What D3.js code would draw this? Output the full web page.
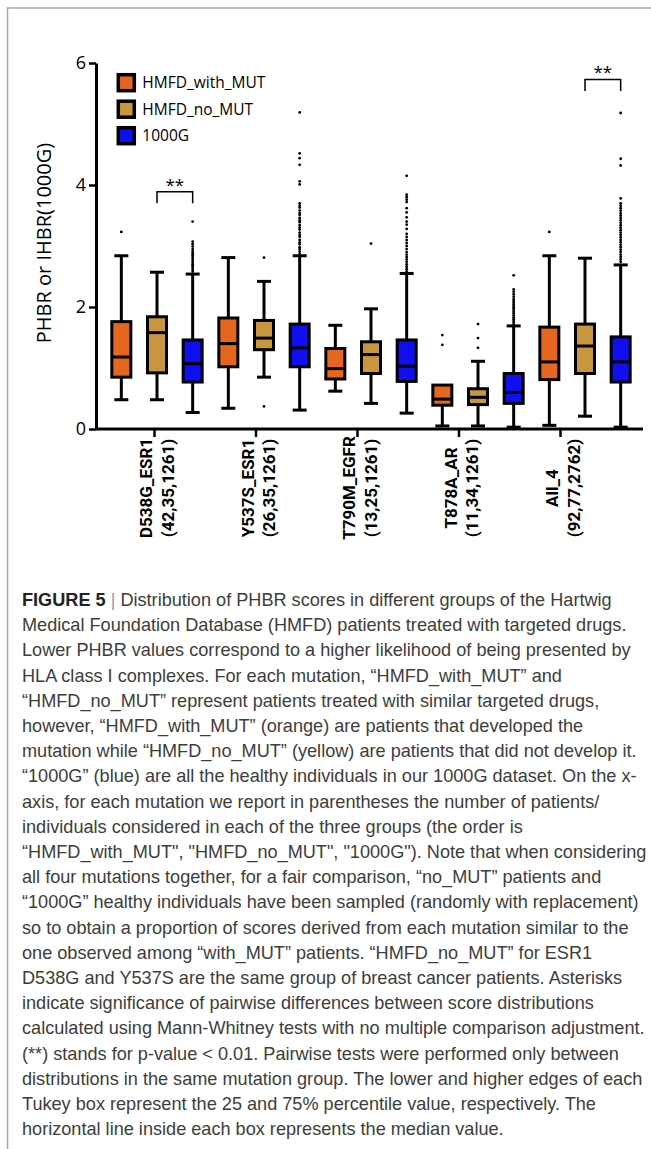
<!DOCTYPE html>
<html>
<head>
<meta charset="utf-8">
<script src="https://cdn.jsdelivr.net/npm/d3@7"></script>
<style>
  body { margin: 0; background: #fff; }
  svg { display: block; }
</style>
</head>
<body>
<svg id="fig" width="651" height="1149"></svg>
<script>
// categories
var groups = ["D538G_ESR1", "Y537S_ESR1", "T790M_EGFR", "T878A_AR", "All_4"];
var groupCounts = ["(42,35,1261)", "(26,35,1261)", "(13,25,1261)", "(11,34,1261)", "(92,77,2762)"];
var seriesNames = ["HMFD_with_MUT", "HMFD_no_MUT", "1000G"];
var seriesColors = ["#E5661F", "#C8963E", "#0F0FF0"];
var yTicks = [0, 2, 4, 6];

// box stats per group: [low whisker, q1, median, q3, high whisker]
var withMutStats = [
  [0.48, 0.85, 1.18, 1.76, 2.84],
  [0.34, 1.02, 1.40, 1.82, 2.81],
  [0.62, 0.82, 0.99, 1.32, 1.70],
  [0.05, 0.39, 0.49, 0.72, 0.72],
  [0.06, 0.81, 1.10, 1.67, 2.84]
];
var noMutStats = [
  [0.48, 0.92, 1.58, 1.84, 2.57],
  [0.85, 1.30, 1.49, 1.78, 2.42],
  [0.42, 0.91, 1.22, 1.43, 1.97],
  [0.05, 0.40, 0.52, 0.66, 1.11],
  [0.21, 0.91, 1.36, 1.72, 2.80]
];
var g1000Stats = [
  [0.27, 0.77, 1.07, 1.46, 2.54],
  [0.31, 1.02, 1.33, 1.72, 2.84],
  [0.26, 0.78, 1.03, 1.46, 2.55],
  [0.03, 0.42, 0.60, 0.91, 1.69],
  [0.03, 0.77, 1.10, 1.51, 2.69]
];

// outliers per group
var withMutOut = [[3.23], [], [], [1.54, 1.38], [3.23]];
var noMutOut = [[], [2.81, 0.37], [3.04], [1.72, 1.49, 1.33], []];
var g1000Out = [
  [3.40, 3.07, 3.03, 2.99, 2.95, 2.91, 2.88, 2.85, 2.82, 2.79, 2.76, 2.73, 2.70, 2.67, 2.64, 2.61, 2.58],
  [5.19, 4.52, 4.44, 4.33, 4.06, 4.01, 3.70, 3.66, 3.63, 3.58, 3.54, 3.51, 3.46, 3.42, 3.39, 3.34, 3.30,
   3.27, 3.22, 3.18, 3.15, 3.10, 3.06, 3.03, 2.98, 2.95, 2.91, 2.87],
  [4.15, 3.84, 3.80, 3.76, 3.72, 3.62, 3.55, 3.47, 3.40, 3.35, 3.28, 3.20, 3.15, 3.10, 3.05, 3.00, 2.95,
   2.90, 2.86, 2.82, 2.78, 2.74, 2.70, 2.66, 2.62, 2.58],
  [2.52, 2.29, 2.25, 2.21, 2.17, 2.13, 2.10, 2.07, 2.04, 2.01, 1.98, 1.95, 1.92, 1.89, 1.86, 1.83, 1.80,
   1.77, 1.74, 1.71],
  [5.18, 4.43, 4.32, 3.78, 3.70, 3.66, 3.62, 3.58, 3.54, 3.50, 3.46, 3.42, 3.38, 3.34, 3.30, 3.26, 3.22,
   3.18, 3.14, 3.10, 3.06, 3.02, 2.98, 2.94, 2.90, 2.86, 2.82, 2.78, 2.74]
];

// significance brackets
var sigPairs = [
  { group: "D538G_ESR1", a: "HMFD_no_MUT", b: "1000G", y: 3.89, label: "**" },
  { group: "All_4", a: "HMFD_no_MUT", b: "1000G", y: 5.73, label: "**" }
];

var captionLines = [
  "Distribution of PHBR scores in different groups of the Hartwig",
  "Medical Foundation Database (HMFD) patients treated with targeted drugs.",
  "Lower PHBR values correspond to a higher likelihood of being presented by",
  "HLA class I complexes. For each mutation, \u201cHMFD_with_MUT\u201d and",
  "\u201cHMFD_no_MUT\u201d represent patients treated with similar targeted drugs,",
  "however, \u201cHMFD_with_MUT\u201d (orange) are patients that developed the",
  "mutation while \u201cHMFD_no_MUT\u201d (yellow) are patients that did not develop it.",
  "\u201c1000G\u201d (blue) are all the healthy individuals in our 1000G dataset. On the x-",
  "axis, for each mutation we report in parentheses the number of patients/",
  "individuals considered in each of the three groups (the order is",
  "\u201cHMFD_with_MUT\", \"HMFD_no_MUT\", \"1000G\"). Note that when considering",
  "all four mutations together, for a fair comparison, \u201cno_MUT\u201d patients and",
  "\u201c1000G\u201d healthy individuals have been sampled (randomly with replacement)",
  "so to obtain a proportion of scores derived from each mutation similar to the",
  "one observed among \u201cwith_MUT\u201d patients. \u201cHMFD_no_MUT\u201d for ESR1",
  "D538G and Y537S are the same group of breast cancer patients. Asterisks",
  "indicate significance of pairwise differences between score distributions",
  "calculated using Mann-Whitney tests with no multiple comparison adjustment.",
  "(**) stands for p-value < 0.01. Pairwise tests were performed only between",
  "distributions in the same mutation group. The lower and higher edges of each",
  "Tukey box represent the 25 and 75% percentile value, respectively. The",
  "horizontal line inside each box represents the median value."
];

var statsBySeries = [withMutStats, noMutStats, g1000Stats];
var outBySeries = [withMutOut, noMutOut, g1000Out];

var svg = d3.select("#fig");
var chartFont = "'Open Sans', sans-serif";

// frame
svg.append("path")
  .attr("d", "M651,8H7.5V1149")
  .attr("fill", "none")
  .attr("stroke", "#a9a9a9")
  .attr("stroke-width", 1.5);

var y = d3.scaleLinear().domain([0, 6]).range([429, 63]);
var x0 = d3.scaleBand().domain(groups).range([103.5, 638.5]);
var x1 = d3.scaleBand().domain(seriesNames).range([0, x0.bandwidth()]);
var xTick = d3.scalePoint().domain(groups).range([154, 560]);
var color = d3.scaleOrdinal().domain(seriesNames).range(seriesColors);

function cx(g, s) { return x0(g) + x1(s) + x1.bandwidth() / 2; }

// flatten to one record per box
var boxes = [];
seriesNames.forEach(function (s, si) {
  groups.forEach(function (g, gi) {
    var st = statsBySeries[si][gi];
    boxes.push({ group: g, series: s, lo: st[0], q1: st[1], med: st[2], q3: st[3], hi: st[4], out: outBySeries[si][gi] });
  });
});

var boxW = 19, capW = 14;
var bg = svg.append("g").selectAll("g")
  .data(boxes)
  .enter()
  .append("g")
  .attr("transform", function (d) { return "translate(" + cx(d.group, d.series) + ",0)"; });

// whiskers
bg.append("line")
  .attr("y1", function (d) { return y(d.hi); })
  .attr("y2", function (d) { return y(d.lo); })
  .attr("stroke", "#000").attr("stroke-width", 3);
bg.filter(function (d) { return d.hi > d.q3; }).append("line")
  .attr("x1", -capW / 2).attr("x2", capW / 2)
  .attr("y1", function (d) { return y(d.hi); })
  .attr("y2", function (d) { return y(d.hi); })
  .attr("stroke", "#000").attr("stroke-width", 3);
bg.append("line")
  .attr("x1", -capW / 2).attr("x2", capW / 2)
  .attr("y1", function (d) { return y(d.lo); })
  .attr("y2", function (d) { return y(d.lo); })
  .attr("stroke", "#000").attr("stroke-width", 3);

// box + median
bg.append("rect")
  .attr("x", -boxW / 2)
  .attr("width", boxW)
  .attr("y", function (d) { return y(d.q3); })
  .attr("height", function (d) { return y(d.q1) - y(d.q3); })
  .attr("fill", function (d) { return color(d.series); })
  .attr("stroke", "#000").attr("stroke-width", 3);
bg.append("line")
  .attr("x1", -boxW / 2).attr("x2", boxW / 2)
  .attr("y1", function (d) { return y(d.med); })
  .attr("y2", function (d) { return y(d.med); })
  .attr("stroke", "#000").attr("stroke-width", 3);

// outliers
bg.selectAll("circle")
  .data(function (d) { return d.out; })
  .enter()
  .append("circle")
  .attr("cy", function (v) { return y(v); })
  .attr("r", 1.4)
  .attr("fill", "#000");

// y axis
var yAxis = svg.append("g")
  .attr("transform", "translate(96,0)")
  .call(d3.axisLeft(y).tickValues(yTicks).tickFormat(d3.format("d"))
    .tickSize(7).tickSizeOuter(0).tickPadding(3));
yAxis.select(".domain").attr("stroke-width", 3);
yAxis.selectAll(".tick line").attr("stroke-width", 2.5);
yAxis.selectAll(".tick text")
  .attr("font-family", chartFont)
  .attr("font-size", 18)
  .attr("fill", "#000");

// x axis
svg.append("line")
  .attr("x1", 96).attr("x2", 643)
  .attr("y1", y(0)).attr("y2", y(0))
  .attr("stroke", "#000").attr("stroke-width", 3);
var xAxis = svg.append("g")
  .attr("transform", "translate(0," + y(0) + ")")
  .call(d3.axisBottom(xTick).tickSize(8).tickFormat(""));
xAxis.select(".domain").remove();
xAxis.selectAll(".tick line").attr("stroke-width", 2.5);

var xl = svg.append("g").selectAll("g")
  .data(groups)
  .enter()
  .append("g")
  .attr("transform", function (g) { return "translate(" + xTick(g) + ",488) rotate(-90)"; })
  .attr("font-family", "Roboto, sans-serif")
  .attr("font-weight", "bold")
  .attr("font-size", 17)
  .attr("text-anchor", "middle");
xl.append("text").attr("y", -2).text(function (g) { return g; });
xl.append("text").attr("y", 19.5).text(function (g, i) { return groupCounts[i]; });

// y label
svg.append("text")
  .attr("transform", "translate(51,243) rotate(-90)")
  .attr("text-anchor", "middle")
  .attr("font-family", chartFont)
  .attr("font-size", 20)
  .text("PHBR or IHBR(1000G)");

// legend
var leg = svg.append("g").selectAll("g")
  .data(seriesNames)
  .enter()
  .append("g")
  .attr("transform", function (s, i) { return "translate(126.3," + (82.7 + i * 26.5) + ")"; });
leg.append("rect")
  .attr("x", -8).attr("y", -8)
  .attr("width", 16).attr("height", 16)
  .attr("fill", function (s) { return color(s); })
  .attr("stroke", "#000").attr("stroke-width", 3.5);
leg.append("text")
  .attr("x", 16).attr("y", 5.5)
  .attr("font-family", chartFont)
  .attr("font-size", 15.5)
  .text(function (s) { return s; });

// significance brackets
sigPairs.forEach(function (p) {
  var xa = cx(p.group, p.a), xb = cx(p.group, p.b), yt = y(p.y);
  svg.append("path")
    .attr("d", "M" + xa + "," + (yt + 11.5) + "V" + yt + "H" + xb + "V" + (yt + 11.5))
    .attr("fill", "none")
    .attr("stroke", "#000")
    .attr("stroke-width", 1.5);
  svg.append("text")
    .attr("x", (xa + xb) / 2)
    .attr("y", yt - 1)
    .attr("text-anchor", "middle")
    .attr("font-family", chartFont)
    .attr("font-size", 17)
    .text(p.label);
});

// caption
var capSize = 16;
var cap = svg.append("g")
  .attr("font-family", "'Liberation Sans', Arial, sans-serif")
  .attr("font-size", capSize)
  .attr("fill", "#3d3d3d");
var capTexts = [];
captionLines.forEach(function (line, i) {
  var t = cap.append("text").attr("x", 22).attr("y", 606 + i * 25.2);
  if (i === 0) {
    t.append("tspan").attr("font-weight", "bold").attr("fill", "#222").text("FIGURE 5");
    t.append("tspan").attr("fill", "#999").text(" | ");
  }
  t.append("tspan").text(line);
  capTexts.push(t);
});
// widest caption line spans the full text column (x 22 to ~645)
var widest = capTexts[17].node().getComputedTextLength();
cap.attr("font-size", capSize * 623 / widest);
</script>
</body>
</html>
